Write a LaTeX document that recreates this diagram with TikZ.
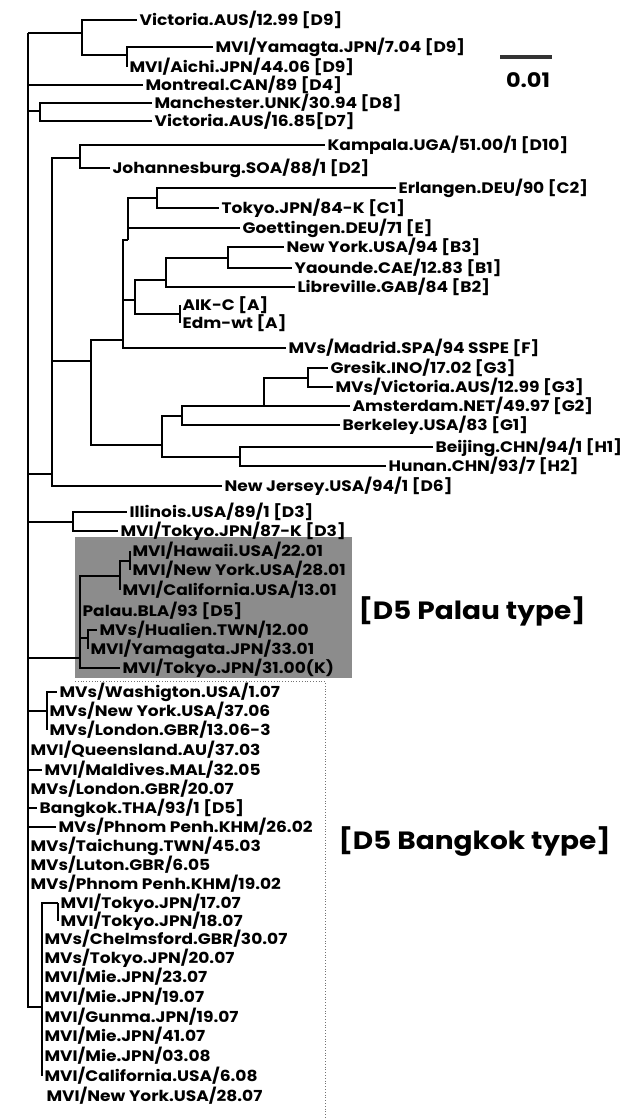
\documentclass[tikz,border=0pt]{standalone}
\usepackage{fontspec}
\setmainfont{Poppins}[FakeStretch=1.12]
\usepackage{tikz}

\begin{document}
\begin{tikzpicture}[x=0.5pt, y=-0.5pt, line width=0.6pt,
    blatt/.style={anchor=west, inner sep=0pt, inner xsep=1pt,
        font=\bfseries\fontsize{7.6}{9}\selectfont},
    typ/.style={anchor=west, inner sep=0pt,
        font=\bfseries\fontsize{12.5}{15}\selectfont},
    kasten/.style={densely dotted, line width=0.4pt, black!55}]

\useasboundingbox (0,0) rectangle (629,1120);

% Hintergrund Palau-Gruppe
\fill[black!45] (75,537) rectangle (352,678);

% Rahmen Bangkok-Gruppe
\coordinate (rahmenA) at (75,681);
\coordinate (rahmenB) at (325,681);
\coordinate (rahmenC) at (325,1120);
\draw[kasten] (rahmenA) -- (rahmenB) -- (rahmenC);

% Innere Knoten
\coordinate (wurzel) at (28,33);
\coordinate (kD9) at (82,33);
\coordinate (kD9b) at (127,55);
\coordinate (kD78) at (40,111);
\coordinate (kMitte) at (52,474);
\coordinate (kD10) at (80,158);
\coordinate (kAH) at (91,361);
\coordinate (kAF) at (123,340);
\coordinate (kCE) at (128,240);
\coordinate (kC) at (157,198);
\coordinate (kAB) at (135,300);
\coordinate (kB) at (166,280);
\coordinate (kB13) at (228,258);
\coordinate (kA) at (180,314);
\coordinate (kGH) at (162,445);
\coordinate (kG) at (182,416);
\coordinate (kG23) at (264,406);
\coordinate (kG3) at (308,378);
\coordinate (kH) at (240,457);
\coordinate (kD3) at (73,522);
\coordinate (kPalau) at (80,658);
\coordinate (kP2) at (120,576);
\coordinate (kP1) at (130,561);
\coordinate (kP4) at (88,638);
\coordinate (kWash) at (47,711);
\coordinate (kJPN) at (42,1007);
\coordinate (kTokyo) at (58,903);

% Blaetter oben
\node[blatt] (vicD9) at (137,20) {Victoria.AUS/12.99 [D9]};
\node[blatt] (yamD9) at (213,47) {MVI/Yamagta.JPN/7.04 [D9]};
\node[blatt] (aichi) at (127,67) {MVI/Aichi.JPN/44.06 [D9]};
\node[blatt] (montreal) at (143,85) {Montreal.CAN/89 [D4]};
\node[blatt] (manch) at (152,103) {Manchester.UNK/30.94 [D8]};
\node[blatt] (vicD7) at (152,121) {Victoria.AUS/16.85[D7]};
\node[blatt] (kampala) at (325,145) {Kampala.UGA/51.00/1 [D10]};
\node[blatt] (joburg) at (110,168) {Johannesburg.SOA/88/1 [D2]};
\node[blatt] (erlangen) at (396,188) {Erlangen.DEU/90 [C2]};
\node[blatt] (tokyoC1) at (219,208) {Tokyo.JPN/84-K [C1]};
\node[blatt] (goett) at (240,228) {Goettingen.DEU/71 [E]};
\node[blatt] (nyB3) at (284,247) {New York.USA/94 [B3]};
\node[blatt] (yaounde) at (292,268) {Yaounde.CAE/12.83 [B1]};
\node[blatt] (libre) at (295,287) {Libreville.GAB/84 [B2]};
\node[blatt] (aik) at (180,305) {AIK-C [A]};
\node[blatt] (edm) at (180,323) {Edm-wt [A]};
\node[blatt] (madrid) at (286,348) {MVs/Madrid.SPA/94 SSPE [F]};
\node[blatt] (gresik) at (328,368) {Gresik.INO/17.02 [G3]};
\node[blatt] (vicG3) at (333,387) {MVs/Victoria.AUS/12.99 [G3]};
\node[blatt] (amst) at (350,406) {Amsterdam.NET/49.97 [G2]};
\node[blatt] (berk) at (340,425) {Berkeley.USA/83 [G1]};
\node[blatt] (beijing) at (433,447) {Beijing.CHN/94/1 [H1]};
\node[blatt] (hunan) at (386,466) {Hunan.CHN/93/7 [H2]};
\node[blatt] (newjersey) at (222,486) {New Jersey.USA/94/1 [D6]};
\node[blatt] (illinois) at (127,512) {Illinois.USA/89/1 [D3]};
\node[blatt] (tokyoD3) at (118,531) {MVI/Tokyo.JPN/87-K [D3]};

% Palau-Typ
\node[blatt] (hawaii) at (130,551) {MVI/Hawaii.USA/22.01};
\node[blatt] (nyP) at (130,570) {MVI/New York.USA/28.01};
\node[blatt] (calP) at (120,590) {MVI/California.USA/13.01};
\node[blatt] (palau) at (80,611) {Palau.BLA/93 [D5]};
\node[blatt] (hualien) at (97,630) {MVs/Hualien.TWN/12.00};
\node[blatt] (yamP) at (88,649) {MVI/Yamagata.JPN/33.01};
\node[blatt] (tokyoP) at (120,668) {MVI/Tokyo.JPN/31.00(K)};
\node[typ] (palautyp) at (358,611) {[D5 Palau type]};

% Bangkok-Typ
\node[blatt] (wash) at (57,692) {MVs/Washigton.USA/1.07};
\node[blatt] (ny3706) at (47,711) {MVs/New York.USA/37.06};
\node[blatt] (lon1306) at (47,730) {MVs/London.GBR/13.06-3};
\node[blatt] (qld) at (28,750) {MVI/Queensland.AU/37.03};
\node[blatt] (maldives) at (42,770) {MVI/Maldives.MAL/32.05};
\node[blatt] (lon2007) at (28,789) {MVs/London.GBR/20.07};
\node[blatt] (bangkok) at (37,808) {Bangkok.THA/93/1 [D5]};
\node[blatt] (pp26) at (56,827) {MVs/Phnom Penh.KHM/26.02};
\node[blatt] (taichung) at (28,846) {MVs/Taichung.TWN/45.03};
\node[blatt] (luton) at (28,865) {MVs/Luton.GBR/6.05};
\node[blatt] (pp19) at (28,884) {MVs/Phnom Penh.KHM/19.02};
\node[blatt] (tokyo17) at (58,903) {MVI/Tokyo.JPN/17.07};
\node[blatt] (tokyo18) at (58,921) {MVI/Tokyo.JPN/18.07};
\node[blatt] (chelms) at (42,939) {MVs/Chelmsford.GBR/30.07};
\node[blatt] (tokyo20) at (42,958) {MVs/Tokyo.JPN/20.07};
\node[blatt] (mie23) at (42,977) {MVI/Mie.JPN/23.07};
\node[blatt] (mie19) at (42,997) {MVI/Mie.JPN/19.07};
\node[blatt] (gunma) at (42,1017) {MVI/Gunma.JPN/19.07};
\node[blatt] (mie41) at (42,1036) {MVI/Mie.JPN/41.07};
\node[blatt] (mie03) at (42,1056) {MVI/Mie.JPN/03.08};
\node[blatt] (cal608) at (42,1076) {MVI/California.USA/6.08};
\node[blatt] (ny2807) at (44,1096) {MVI/New York.USA/28.07};
\node[typ] (bkktyp) at (338,842) {[D5 Bangkok type]};

% Aeste zwischen inneren Knoten
\foreach \a/\b in {wurzel/kD9, kD9/kD9b, wurzel/kD78, wurzel/kMitte,
    kMitte/kD10, kMitte/kAH, kAH/kAF, kAF/kCE, kCE/kC, kAF/kAB, kAB/kB,
    kB/kB13, kAB/kA, kAH/kGH, kGH/kG, kG/kG23, kG23/kG3, kGH/kH,
    wurzel/kD3, wurzel/kPalau, kPalau/kP2, kP2/kP1, kPalau/kP4,
    wurzel/kWash, wurzel/kJPN, kJPN/kTokyo}
{
    \draw (\a) |- (\b);
}

% Aeste zu den Blaettern
\foreach \a/\b in {kD9/vicD9, kD9b/yamD9, kD9b/aichi, wurzel/montreal,
    kD78/manch, kD78/vicD7, kD10/kampala, kD10/joburg, kC/erlangen,
    kC/tokyoC1, kCE/goett, kB13/nyB3, kB13/yaounde, kB/libre, kA/aik,
    kA/edm, kAF/madrid, kG3/gresik, kG3/vicG3, kG23/amst, kG/berk,
    kH/beijing, kH/hunan, kMitte/newjersey, kD3/illinois, kD3/tokyoD3,
    kP1/hawaii, kP1/nyP, kP2/calP, kPalau/palau, kP4/hualien, kP4/yamP,
    kPalau/tokyoP, kWash/wash, kWash/ny3706, kWash/lon1306, wurzel/qld,
    wurzel/maldives, wurzel/lon2007, wurzel/bangkok, wurzel/pp26,
    wurzel/taichung, wurzel/luton, wurzel/pp19, kTokyo/tokyo17,
    kTokyo/tokyo18, kJPN/chelms, kJPN/tokyo20, kJPN/mie23, kJPN/mie19,
    kJPN/gunma, kJPN/mie41, kJPN/mie03, kJPN/cal608}
{
    \draw (\a) |- (\b.west);
}

% Massstab
\coordinate (skalaL) at (500,57);
\coordinate (skalaR) at (552,57);
\draw[line width=1.6pt, black!80] (skalaL) -- (skalaR);
\node[font=\bfseries\fontsize{10}{12}\selectfont] (skala) at (528,80) {0.01};

\end{tikzpicture}
\end{document}
